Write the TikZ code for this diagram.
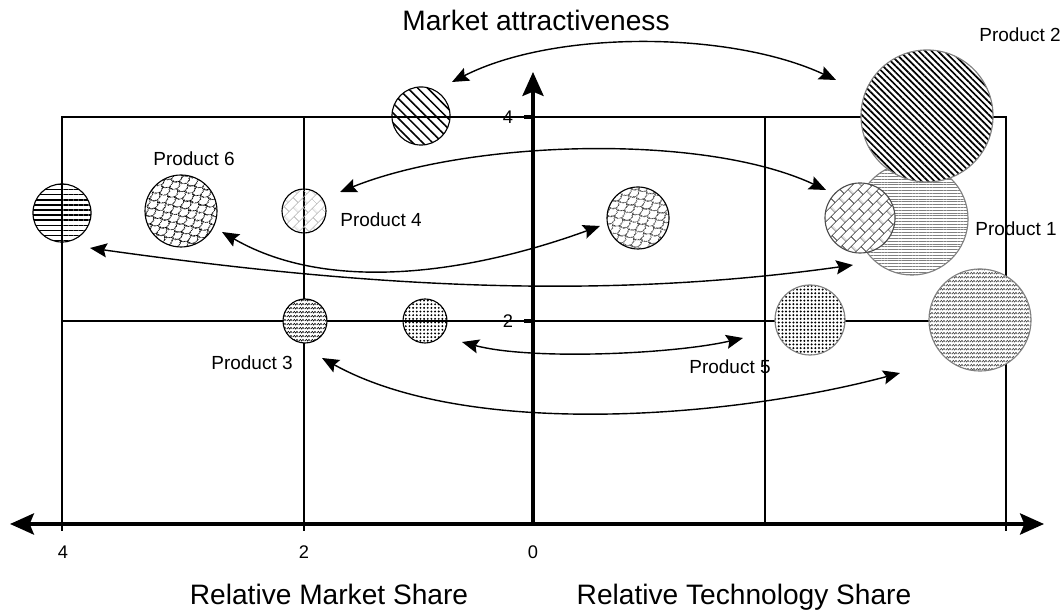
\documentclass[tikz,border=0pt]{standalone}
\usepackage{fontspec}
\setmainfont{Liberation Sans}
\usetikzlibrary{arrows.meta, calc, positioning, patterns.meta}

\tikzdeclarepattern{
  name=fishscales, type=uncolored,
  bottom left={(0pt,0pt)}, top right={(8pt,8pt)}, tile size={(8pt,8pt)},
  tile transformation={rotate=30},
  code={
    \tikzset{x=1pt,y=1pt}
    \draw[line width=.55pt] (0,4) arc[start angle=180,end angle=360,radius=4]
      (-4,8) arc[start angle=180,end angle=360,radius=4]
      (4,8) arc[start angle=180,end angle=360,radius=4];
  }
}
\tikzdeclarepattern{
  name=zigzag, type=uncolored,
  bottom left={(0pt,0pt)}, top right={(4pt,3pt)}, tile size={(4pt,3pt)},
  code={
    \tikzset{x=1pt,y=1pt}
    \draw[line width=.45pt] (0,.75) -- (1,2.25) -- (2,.75) -- (3,2.25) -- (4,.75);
  }
}
\tikzdeclarepattern{
  name=slantbricks, type=uncolored,
  bottom left={(0pt,0pt)}, top right={(9pt,10pt)}, tile size={(9pt,10pt)},
  tile transformation={rotate=45},
  code={
    \tikzset{x=1pt,y=1pt}
    \draw[line width=.5pt] (0,2.5) -- (9,2.5) (0,7.5) -- (9,7.5)
      (2,2.5) -- (2,7.5) (6.5,7.5) -- (6.5,10) (6.5,0) -- (6.5,2.5);
  }
}

\tikzset{
  axtip/.tip={Stealth[length=17pt,width=15pt,inset=3pt]},
  ctip/.tip={Stealth[length=12pt,width=10pt,inset=2pt]},
  bubble/.style={circle, draw, inner sep=0pt, outer sep=0pt, line width=.8pt},
  solid bubble/.style={bubble, preaction={fill=white}},
  conn/.style={ctip-ctip, line width=1pt},
  axis/.style={line width=2.6pt},
  frame/.style={line width=.9pt},
  tick label/.style={font=\fontsize{13}{15}\selectfont},
  product/.style={font=\fontsize{13.5}{16}\selectfont},
  axis title/.style={font=\fontsize{20}{24}\selectfont, anchor=base},
}

\begin{document}
\begin{tikzpicture}[x=0.025cm, y=0.025cm]
\useasboundingbox (0,0) rectangle (1064,615);

% frame
\draw[frame] (62,91) rectangle (1006,498);
\draw[frame] (62,294) -- (1006,294);
\draw[frame] (304,91) -- (304,498);
\draw[frame] (765,91) -- (765,498);

% axes
\coordinate (xl) at (10,91);
\coordinate (xr) at (1044,91);
\coordinate (o) at (533,91);
\coordinate (yt) at (533,543);
\draw[axis, axtip-axtip] (xl) -- (xr);
\draw[axis, -axtip] (o) -- (yt);
\draw[line width=2.4pt] (524,498) -- (533,498);
\draw[line width=2.4pt] (524,294) -- (533,294);
\draw[line width=1.5pt] (62,91) -- (62,84);
\draw[line width=1.5pt] (304,91) -- (304,84);
\draw[line width=1.5pt] (1006,91) -- (1006,84);

\node[tick label] (t4y) at (508,498) {4};
\node[tick label] (t2y) at (508,294) {2};
\node[tick label] (t4x) at (63,63) {4};
\node[tick label] (t2x) at (304,63) {2};
\node[tick label] (t0x) at (533,63) {0};

\node[axis title] (mat) at (536,584) {Market attractiveness};
\node[axis title] (rms) at (329,10) {Relative Market Share};
\node[axis title] (rts) at (744,10) {Relative Technology Share};

% bubbles, market side
\node[bubble, minimum size=41.3pt, pattern={Lines[angle=-45,distance=5pt,line width=1.1pt]}] (p2m) at (421,499) {};
\node[bubble, minimum size=41.3pt, pattern={Lines[distance=3.6pt,line width=.9pt]}] (p1m) at (62,402) {};
\node[solid bubble, minimum size=51.2pt, pattern=fishscales] (p6m) at (181,404) {};
\node[bubble, minimum size=31.3pt, pattern=slantbricks, pattern color=gray!60] (p4m) at (304,404) {};
\node[solid bubble, minimum size=31.3pt, pattern=zigzag] (p3m) at (305,294) {};
\node[bubble, minimum size=31.3pt, pattern={Dots[radius=.75pt,distance=2.6pt]}] (p5m) at (425,294) {};

% bubbles, technology side
\node[solid bubble, minimum size=44.1pt, pattern=fishscales, pattern color=black!75] (p6t) at (638,397) {};
\node[solid bubble, minimum size=79.7pt, draw=gray, pattern={Lines[distance=2pt,line width=.35pt]}, pattern color=gray] (p1t) at (912,396) {};
\node[solid bubble, minimum size=93.9pt, draw=gray, pattern={Lines[angle=-45,distance=3.2pt,line width=1.2pt]}] (p2t) at (927,499) {};
\node[solid bubble, minimum size=49.8pt, draw=black!70, pattern=slantbricks, pattern color=black!80] (p4t) at (860,397) {};
\node[solid bubble, minimum size=49.8pt, draw=gray, pattern={Dots[radius=.8pt,distance=2.6pt]}] (p5t) at (810,295) {};
\node[solid bubble, minimum size=72.6pt, draw=gray, pattern=zigzag, pattern color=black!75] (p3t) at (980,295) {};

% labels
\node[product] (l6) at (194,456) {Product 6};
\node[product] (l4) at (381,395) {Product 4};
\node[product] (l3) at (252,252) {Product 3};
\node[product] (l5) at (730,248) {Product 5};
\node[product] (l1) at (1016,386) {Product 1};
\node[product] (l2) at (1020,580) {Product 2};

% arrows between positions
\draw[conn] ($(p2m)+(31,34)$) to[out=27,in=155,looseness=.77] ($(p2t)+(-91,36)$);
\draw[conn] ($(p4m)+(36,19)$) to[out=22,in=155,looseness=.72] ($(p4t)+(-34,28)$);
\draw[conn] ($(p6m)+(41,-21)$) to[out=-30,in=200,looseness=.87] ($(p6t)+(-38,-8)$);
\draw[conn] ($(p1m)+(28,-35)$) to[out=-8,in=188,looseness=.89] ($(p1t)+(-59,-46)$);
\draw[conn] ($(p5m)+(37,-21)$) to[out=-15,in=193,looseness=.65] ($(p5t)+(-67,-18)$);
\draw[conn] ($(p3m)+(17,-37)$) to[out=-29,in=195,looseness=.75] ($(p3t)+(-80,-53)$);
\end{tikzpicture}
\end{document}
